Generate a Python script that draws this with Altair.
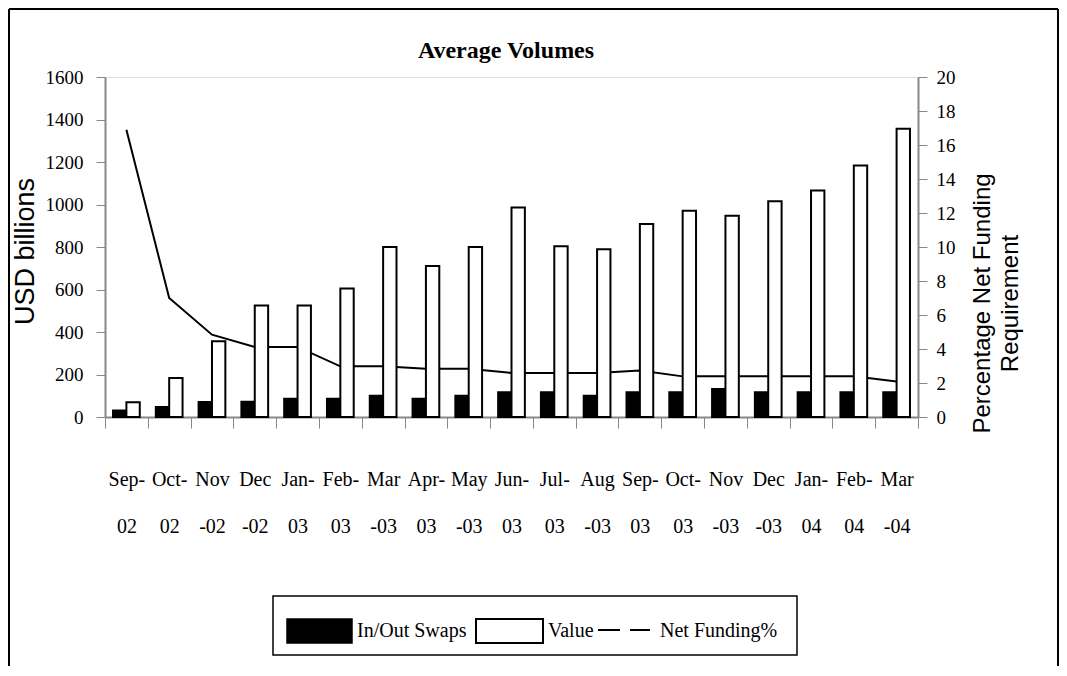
import altair as alt
import pandas as pd

# ---- data ----
months = ["Sep-|02", "Oct-|02", "Nov|-02", "Dec|-02", "Jan-|03", "Feb-|03", "Mar|-03",
          "Apr-|03", "May|-03", "Jun-|03", "Jul-|03", "Aug|-03", "Sep-|03", "Oct-|03",
          "Nov|-03", "Dec|-03", "Jan-|04", "Feb-|04", "Mar|-04"]
inout_swaps = [31, 47, 71, 72, 86, 86, 100, 86, 100, 116, 116, 100, 116, 116, 132, 116, 116, 116, 116]
value = [69, 184, 356, 525, 525, 605, 800, 711, 800, 986, 803, 790, 908, 971, 947, 1015, 1066, 1183, 1357]
net_funding = [16.9, 7.0, 4.84, 4.12, 4.12, 2.98, 2.98, 2.84, 2.84, 2.59, 2.59, 2.59, 2.74,
               2.39, 2.39, 2.39, 2.39, 2.39, 2.09]
series = ["In/Out Swaps", "Value"]
left_ticks = [0, 200, 400, 600, 800, 1000, 1200, 1400, 1600]
right_ticks = [0, 2, 4, 6, 8, 10, 12, 14, 16, 18, 20]

df = pd.DataFrame({"month": months, "In/Out Swaps": inout_swaps, "Value": value,
                   "net": net_funding})

SERIF = "Liberation Serif"
SANS = "Liberation Sans"

xenc = alt.X("month:N", sort=months, title=None,
             scale=alt.Scale(paddingInner=0, paddingOuter=0),
             axis=alt.Axis(labelExpr="split(datum.label, '|')", labelAngle=0,
                           labelFont=SERIF, labelFontSize=20, labelLineHeight=47,
                           labelBaseline="top", labelPadding=41, tickBand="extent",
                           tickSize=11, domainWidth=2, grid=False))

line = alt.Chart(df).mark_line(color="black", strokeWidth=2).encode(
    x=xenc,
    y=alt.Y("net:Q", scale=alt.Scale(domain=[0, 20], nice=False),
            axis=alt.Axis(orient="right", values=right_ticks, format="d", tickSize=9,
                          labelPadding=9, labelFont=SERIF, labelFontSize=19, grid=False,
                          domainWidth=2,
                          title=["Percentage Net Funding", "Requirement"],
                          titleFont=SANS, titleFontSize=24, titleFontWeight="normal",
                          titleAngle=270, titleX=64, titleY=226, titleAlign="center",
                          titleBaseline="middle", titleLineHeight=28)),
)

bars = alt.Chart(df).transform_fold(series, as_=["series", "amount"]).mark_bar(
    stroke="black", strokeWidth=2
).encode(
    x=xenc,
    xOffset=alt.XOffset("series:N", sort=series,
                        scale=alt.Scale(paddingInner=0, paddingOuter=0.6)),
    y=alt.Y("amount:Q", scale=alt.Scale(domain=[0, 1600], nice=False),
            axis=alt.Axis(orient="left", values=left_ticks, format="d", tickSize=9,
                          labelPadding=13, labelFont=SERIF, labelFontSize=19, grid=False,
                          domainWidth=2,
                          title="USD billions", titleFont=SANS, titleFontSize=27,
                          titleFontWeight="normal", titleX=-80, titleY=174,
                          titleAlign="center", titleBaseline="middle")),
    fill=alt.Fill("series:N", scale=alt.Scale(domain=series, range=["black", "white"]),
                  legend=None),
)

one = alt.Data(values=[{"k": 0}])

# ---- chart title (drawn as text so it sits inside the fixed frame) ----
title = alt.Chart(one).mark_text(align="center", baseline="middle", font=SERIF, fontSize=24,
                                 fontWeight="bold", color="black").encode(
    x=alt.value(401), y=alt.value(-26), text=alt.value("Average Volumes"))

# ---- custom legend ----
leg_box = alt.Chart(one).mark_rect(fill="white", stroke="black", strokeWidth=1.5).encode(
    x=alt.value(168), x2=alt.value(692), y=alt.value(519), y2=alt.value(578))
leg_black = alt.Chart(one).mark_rect(fill="black", stroke="black", strokeWidth=1.5).encode(
    x=alt.value(182), x2=alt.value(247), y=alt.value(542), y2=alt.value(566))
leg_white = alt.Chart(one).mark_rect(fill="white", stroke="black", strokeWidth=2).encode(
    x=alt.value(371), x2=alt.value(438), y=alt.value(542), y2=alt.value(566))
leg_dash = alt.Chart(one).mark_rule(color="black", strokeWidth=2, strokeDash=[22, 10]).encode(
    x=alt.value(493), x2=alt.value(545), y=alt.value(553))
leg_t1 = alt.Chart(one).mark_text(align="left", baseline="middle", font=SERIF, fontSize=20,
                                  color="black").encode(
    x=alt.value(252), y=alt.value(554), text=alt.value("In/Out Swaps"))
leg_t2 = alt.Chart(one).mark_text(align="left", baseline="middle", font=SERIF, fontSize=20,
                                  color="black").encode(
    x=alt.value(443), y=alt.value(554), text=alt.value("Value"))
leg_t3 = alt.Chart(one).mark_text(align="left", baseline="middle", font=SERIF, fontSize=20,
                                  color="black").encode(
    x=alt.value(555), y=alt.value(554), text=alt.value("Net Funding%"))

# ---- outer frame ----
frame_top = alt.Chart(one).mark_rule(color="black", strokeWidth=2).encode(
    x=alt.value(-96), x2=alt.value(953), y=alt.value(-68))
frame_left = alt.Chart(one).mark_rule(color="black", strokeWidth=2).encode(
    x=alt.value(-96), y=alt.value(-68), y2=alt.value(600))
frame_right = alt.Chart(one).mark_rule(color="black", strokeWidth=2).encode(
    x=alt.value(953), y=alt.value(-68), y2=alt.value(600))

chart = alt.layer(
    line, bars, title, leg_box, leg_black, leg_white, leg_dash, leg_t1, leg_t2, leg_t3,
    frame_top, frame_left, frame_right
).resolve_scale(y="independent").properties(
    width=813, height=340,
    autosize=alt.AutoSizeParams(type="none"),
    padding={"left": 97, "top": 69, "right": 141, "bottom": 249},
).configure_view(stroke="black", strokeWidth=2).configure_axis(
    domainColor="black", tickColor="black", labelColor="black", titleColor="black",
    tickWidth=1.5, labelFont=SERIF
).configure(background="white")

chart.save("out.html", embed_options={"renderer": "svg", "actions": False})
